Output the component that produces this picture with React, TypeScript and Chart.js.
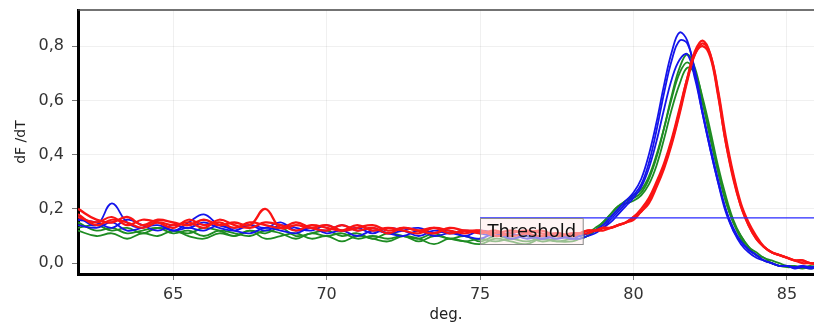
import React, { useEffect, useRef } from "react";
import { Chart, registerables } from "chart.js";

Chart.register(...registerables);

// Temperature (deg.) sample positions
const xs = [
  61.9, 62.5, 63, 63.5, 64, 64.5, 65, 65.5, 66, 66.5, 67, 67.5, 68, 68.5, 69, 69.5,
  70, 70.5, 71, 71.5, 72, 72.5, 73, 73.5, 74, 74.5, 75, 75.5, 76, 76.5, 77, 77.5, 78,
  78.25, 78.5, 78.75, 79, 79.25, 79.5, 79.75, 80, 80.25, 80.5, 80.75, 81, 81.25, 81.5, 81.75,
  82, 82.25, 82.5, 82.75, 83, 83.25, 83.5, 83.75, 84, 84.25, 84.5, 84.75, 85, 85.25, 85.5, 85.75, 86,
];

const blue1 = [
  0.17, 0.14, 0.22, 0.15, 0.13, 0.15, 0.12, 0.15, 0.18, 0.14, 0.13, 0.14, 0.12, 0.14, 0.13, 0.12,
  0.14, 0.12, 0.13, 0.11, 0.13, 0.12, 0.10, 0.12, 0.11, 0.12, 0.11, 0.10, 0.11, 0.09, 0.10, 0.09, 0.10,
  0.10, 0.11, 0.12, 0.14, 0.17, 0.20, 0.23, 0.26, 0.31, 0.40, 0.52, 0.66, 0.78, 0.85, 0.82,
  0.70, 0.55, 0.42, 0.30, 0.19, 0.12, 0.07, 0.04, 0.02, 0.01, 0.00, -0.01, -0.01, -0.015, -0.01, -0.015, -0.01,
];
const blue2 = [
  0.16, 0.15, 0.13, 0.16, 0.14, 0.12, 0.14, 0.13, 0.15, 0.13, 0.12, 0.14, 0.13, 0.15, 0.12, 0.13,
  0.12, 0.14, 0.12, 0.13, 0.11, 0.12, 0.13, 0.11, 0.12, 0.10, 0.12, 0.11, 0.10, 0.11, 0.09, 0.10, 0.09,
  0.10, 0.11, 0.12, 0.13, 0.16, 0.19, 0.22, 0.25, 0.29, 0.37, 0.49, 0.63, 0.75, 0.82, 0.81,
  0.71, 0.56, 0.43, 0.31, 0.20, 0.13, 0.08, 0.05, 0.03, 0.01, 0.00, -0.01, -0.01, -0.02, -0.015, -0.02, -0.015,
];
const blue3 = [
  0.14, 0.13, 0.15, 0.12, 0.13, 0.14, 0.12, 0.13, 0.12, 0.14, 0.12, 0.11, 0.13, 0.12, 0.11, 0.13,
  0.11, 0.12, 0.10, 0.12, 0.11, 0.10, 0.12, 0.10, 0.11, 0.10, 0.09, 0.11, 0.09, 0.10, 0.09, 0.10, 0.09,
  0.09, 0.10, 0.11, 0.13, 0.15, 0.18, 0.21, 0.24, 0.28, 0.35, 0.45, 0.57, 0.68, 0.75, 0.77,
  0.68, 0.55, 0.42, 0.30, 0.20, 0.12, 0.08, 0.05, 0.03, 0.01, 0.00, -0.01, -0.01, -0.015, -0.01, -0.015, -0.01,
];
const green1 = [
  0.15, 0.12, 0.13, 0.11, 0.12, 0.13, 0.11, 0.12, 0.10, 0.12, 0.11, 0.10, 0.12, 0.11, 0.09, 0.11,
  0.10, 0.11, 0.09, 0.10, 0.09, 0.10, 0.08, 0.10, 0.09, 0.08, 0.09, 0.08, 0.09, 0.08, 0.09, 0.08, 0.09,
  0.09, 0.10, 0.12, 0.14, 0.17, 0.20, 0.23, 0.24, 0.26, 0.31, 0.39, 0.50, 0.62, 0.72, 0.77,
  0.72, 0.60, 0.47, 0.34, 0.23, 0.15, 0.09, 0.05, 0.03, 0.01, 0.00, -0.01, -0.015, -0.015, -0.02, -0.015, -0.02,
];
const green2 = [
  0.12, 0.10, 0.11, 0.09, 0.11, 0.10, 0.12, 0.10, 0.09, 0.11, 0.10, 0.12, 0.09, 0.10, 0.11, 0.09,
  0.10, 0.08, 0.10, 0.09, 0.08, 0.10, 0.09, 0.07, 0.09, 0.08, 0.07, 0.09, 0.08, 0.07, 0.09, 0.08, 0.08,
  0.09, 0.10, 0.12, 0.15, 0.18, 0.21, 0.23, 0.25, 0.27, 0.32, 0.40, 0.50, 0.61, 0.70, 0.74,
  0.70, 0.59, 0.46, 0.34, 0.23, 0.15, 0.10, 0.06, 0.03, 0.02, 0.00, -0.01, -0.01, -0.015, -0.015, -0.02, -0.015,
];
const green3 = [
  0.13, 0.14, 0.12, 0.13, 0.11, 0.13, 0.12, 0.11, 0.13, 0.12, 0.10, 0.12, 0.11, 0.13, 0.10, 0.11,
  0.12, 0.10, 0.11, 0.09, 0.11, 0.10, 0.09, 0.11, 0.09, 0.10, 0.08, 0.10, 0.09, 0.10, 0.08, 0.09, 0.10,
  0.10, 0.11, 0.13, 0.15, 0.18, 0.21, 0.22, 0.23, 0.25, 0.29, 0.36, 0.46, 0.57, 0.66, 0.72,
  0.70, 0.61, 0.49, 0.36, 0.25, 0.16, 0.10, 0.06, 0.04, 0.02, 0.01, 0.00, -0.01, -0.01, -0.015, -0.01, -0.015,
];
const red1 = [
  0.20, 0.16, 0.15, 0.17, 0.14, 0.16, 0.15, 0.14, 0.16, 0.14, 0.15, 0.14, 0.20, 0.13, 0.14, 0.13,
  0.14, 0.12, 0.13, 0.14, 0.12, 0.13, 0.12, 0.11, 0.13, 0.12, 0.12, 0.11, 0.12, 0.11, 0.10, 0.11, 0.10,
  0.11, 0.12, 0.12, 0.13, 0.13, 0.14, 0.15, 0.17, 0.19, 0.23, 0.29, 0.36, 0.45, 0.56, 0.68,
  0.78, 0.82, 0.77, 0.63, 0.45, 0.32, 0.21, 0.14, 0.09, 0.06, 0.04, 0.03, 0.02, 0.01, 0.01, 0.00, 0.00,
];
const red2 = [
  0.17, 0.15, 0.17, 0.14, 0.16, 0.15, 0.13, 0.16, 0.14, 0.15, 0.13, 0.15, 0.14, 0.13, 0.15, 0.13,
  0.12, 0.14, 0.12, 0.13, 0.11, 0.13, 0.12, 0.13, 0.11, 0.12, 0.11, 0.12, 0.10, 0.11, 0.12, 0.10, 0.11,
  0.11, 0.11, 0.12, 0.12, 0.13, 0.14, 0.15, 0.16, 0.19, 0.22, 0.28, 0.35, 0.44, 0.55, 0.67,
  0.77, 0.81, 0.77, 0.64, 0.47, 0.33, 0.22, 0.15, 0.10, 0.06, 0.04, 0.03, 0.02, 0.01, 0.01, 0.00, 0.00,
];
const red3 = [
  0.18, 0.14, 0.16, 0.15, 0.13, 0.15, 0.14, 0.15, 0.13, 0.16, 0.14, 0.13, 0.15, 0.14, 0.12, 0.14,
  0.13, 0.12, 0.14, 0.12, 0.13, 0.12, 0.11, 0.13, 0.12, 0.11, 0.12, 0.10, 0.11, 0.12, 0.11, 0.10, 0.11,
  0.11, 0.12, 0.12, 0.13, 0.13, 0.14, 0.15, 0.17, 0.20, 0.24, 0.30, 0.37, 0.46, 0.57, 0.68,
  0.77, 0.80, 0.76, 0.62, 0.45, 0.31, 0.21, 0.14, 0.09, 0.06, 0.04, 0.03, 0.02, 0.01, 0.00, 0.00, -0.005,
];

const xTicks = [65, 70, 75, 80, 85];
const yTicks = [0, 0.2, 0.4, 0.6, 0.8];
const thresholdX = [75, 86];
const thresholdValue = 0.167;
const thresholdLabel = "Threshold";
const xTitle = "deg.";
const yTitle = "dF /dT";

const BLUE = "rgb(20,20,235)";
const GREEN = "rgb(30,140,35)";
const RED = "rgb(250,20,20)";
const FONT = '"DejaVu Sans", Verdana, sans-serif';

const toPts = (arr: number[]) => arr.map((v, i) => ({ x: xs[i], y: v }));

const overlayPlugin = {
  id: "overlay",
  afterDatasetsDraw(chart: any) {
    const { ctx, chartArea, scales } = chart;
    const x = scales.x;
    const y = scales.y;
    ctx.save();
    // top frame line
    ctx.strokeStyle = "#444";
    ctx.lineWidth = 1.5;
    ctx.beginPath();
    ctx.moveTo(chartArea.left, chartArea.top);
    ctx.lineTo(chartArea.right, chartArea.top);
    ctx.stroke();
    // threshold label box
    const px = Math.round(x.getPixelForValue(thresholdX[0])) + 0.5;
    const py = Math.round(y.getPixelForValue(thresholdValue)) + 0.5;
    ctx.font = "18px " + FONT;
    const w = ctx.measureText(thresholdLabel).width + 14;
    const h = 26;
    ctx.fillStyle = "rgba(255,235,235,0.55)";
    ctx.fillRect(px, py, w, h);
    ctx.strokeStyle = "#8a8a8a";
    ctx.lineWidth = 1;
    ctx.strokeRect(px, py, w, h);
    ctx.fillStyle = "#111";
    ctx.textBaseline = "middle";
    ctx.textAlign = "left";
    ctx.fillText(thresholdLabel, px + 7, py + h / 2 + 1);
    ctx.restore();
  },
};

export default function App() {
  const ref = useRef<HTMLCanvasElement>(null);
  useEffect(() => {
    if (!ref.current) return;
    const line = (data: number[], color: string, width: number) => ({
      data: toPts(data),
      borderColor: color,
      backgroundColor: color,
      borderWidth: width,
      pointRadius: 0,
      tension: 0.4,
      fill: false,
    });
    const chart = new Chart(ref.current, {
      type: "line",
      data: {
        datasets: [
          {
            data: thresholdX.map((v) => ({ x: v, y: thresholdValue })),
            borderColor: "rgb(40,40,255)",
            borderWidth: 1.2,
            pointRadius: 0,
            tension: 0,
            fill: false,
          },
          line(red1, RED, 2.4),
          line(red2, RED, 2.2),
          line(red3, RED, 2.2),
          line(blue1, BLUE, 1.8),
          line(blue2, BLUE, 1.8),
          line(blue3, BLUE, 1.8),
          line(green1, GREEN, 1.8),
          line(green2, GREEN, 1.8),
          line(green3, GREEN, 1.8),
        ] as any,
      },
      options: {
        animation: false,
        responsive: false,
        layout: { padding: { top: 10, right: 0, bottom: 0, left: 0 } },
        plugins: { legend: { display: false }, tooltip: { enabled: false } },
        scales: {
          x: {
            type: "linear",
            min: 61.9,
            max: 85.88,
            afterBuildTicks: (s: any) => {
              s.ticks = xTicks.map((v) => ({ value: v }));
            },
            afterFit: (s: any) => {
              s.height = 52;
              s.paddingLeft = 0;
              s.paddingRight = 0;
            },
            grid: { color: "rgba(0,0,0,0.06)", tickColor: "#777", tickLength: 6 },
            border: { color: "#000", width: 3 },
            ticks: {
              color: "#333",
              padding: 5,
              maxRotation: 0,
              font: { family: FONT, size: 16 },
              callback: (v: any) => String(v),
            },
            title: {
              display: true,
              text: xTitle,
              color: "#222",
              font: { family: FONT, size: 15 },
              padding: { top: 0, bottom: 2 },
            },
          },
          y: {
            type: "linear",
            min: -0.04,
            max: 0.933,
            afterBuildTicks: (s: any) => {
              s.ticks = yTicks.map((v) => ({ value: v }));
            },
            afterFit: (s: any) => {
              s.width = 78;
              s.paddingTop = 0;
              s.paddingBottom = 0;
            },
            grid: { color: "rgba(0,0,0,0.06)", tickColor: "#777", tickLength: 6 },
            border: { color: "#000", width: 3 },
            ticks: {
              color: "#333",
              padding: 8,
              font: { family: FONT, size: 16 },
              callback: (v: any) => Number(v).toFixed(1).replace(".", ","),
            },
            title: {
              display: true,
              text: yTitle,
              color: "#222",
              font: { family: FONT, size: 14 },
              padding: { top: 13, bottom: 0 },
            },
          },
        },
      },
      plugins: [overlayPlugin],
    });
    return () => chart.destroy();
  }, []);
  return (
    <div style={{ position: "fixed", left: 0, top: 0, width: 814, height: 326, background: "#fff" }}>
      <canvas ref={ref} width={814} height={326} style={{ display: "block" }} />
    </div>
  );
}
